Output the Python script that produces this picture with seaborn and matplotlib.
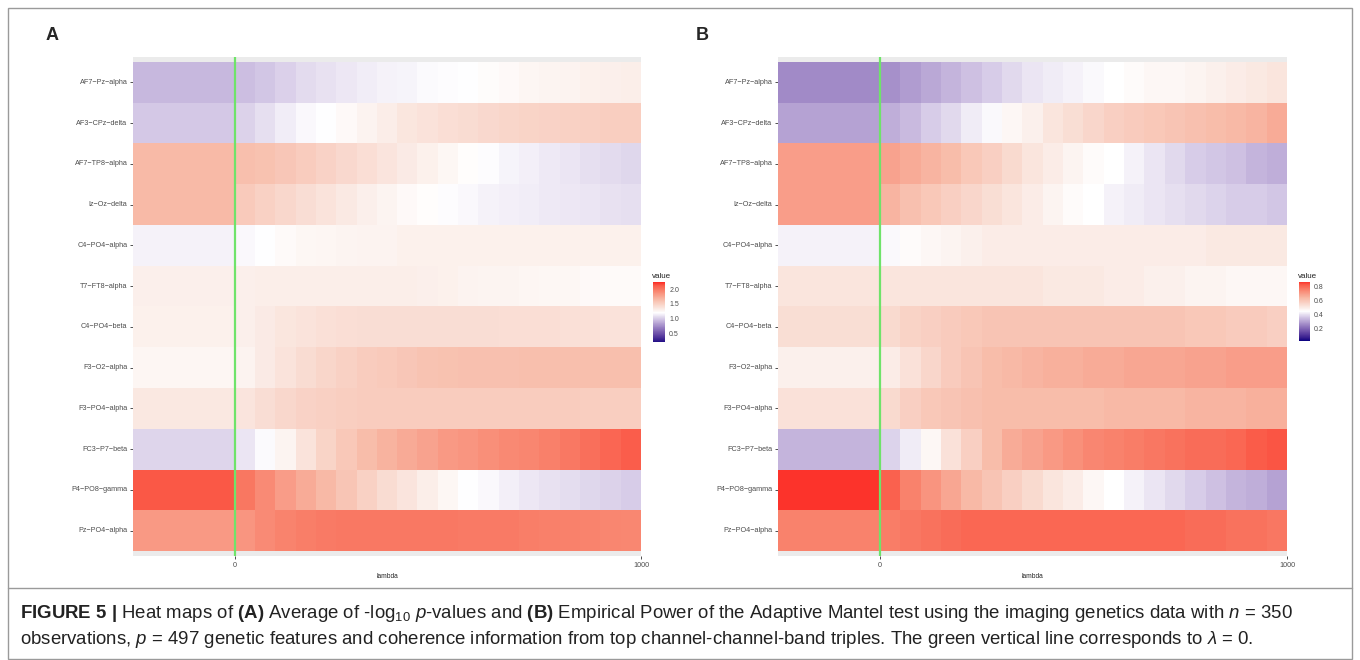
import numpy as np
import pandas as pd
import matplotlib
matplotlib.use("Agg")
import matplotlib.pyplot as plt
from matplotlib.colors import ListedColormap, to_rgb
from matplotlib.patches import Rectangle
from matplotlib.lines import Line2D
import seaborn as sns

# rows, top to bottom
pairs = ["AF7−Pz−alpha", "AF3−CPz−delta", "AF7−TP8−alpha", "Iz−Oz−delta", "C4−PO4−alpha",
         "T7−FT8−alpha", "C4−PO4−beta", "F3−O2−alpha", "F3−PO4−alpha", "FC3−P7−beta",
         "P4−PO8−gamma", "Pz−PO4−alpha"]

# lambda < 0 block (one value per row) and lambda = 0, 50, ..., 950
lambdas = list(range(0, 1000, 50))
neg_block = [-250, -200, -150, -100, -50]

# (A) average -log10 p-values
left_a = [0.93, 0.99, 1.65, 1.65, 1.15, 1.30, 1.29, 1.26, 1.35, 1.04, 2.13, 1.82]
vals_a = [
    [0.95, 0.98, 1.02, 1.06, 1.09, 1.11, 1.13, 1.15, 1.16, 1.18, 1.19, 1.20, 1.22, 1.24, 1.26, 1.27, 1.28, 1.29, 1.30, 1.31],
    [1.03, 1.08, 1.13, 1.17, 1.20, 1.24, 1.28, 1.32, 1.36, 1.39, 1.41, 1.43, 1.45, 1.47, 1.48, 1.49, 1.50, 1.51, 1.52, 1.52],
    [1.62, 1.60, 1.57, 1.53, 1.49, 1.45, 1.41, 1.37, 1.33, 1.29, 1.25, 1.21, 1.19, 1.16, 1.14, 1.12, 1.10, 1.08, 1.06, 1.05],
    [1.55, 1.50, 1.46, 1.42, 1.38, 1.34, 1.30, 1.27, 1.24, 1.21, 1.19, 1.17, 1.15, 1.14, 1.13, 1.12, 1.11, 1.10, 1.09, 1.08],
    [1.17, 1.20, 1.23, 1.25, 1.26, 1.27, 1.28, 1.28, 1.29, 1.29, 1.29, 1.29, 1.29, 1.29, 1.29, 1.29, 1.29, 1.29, 1.29, 1.29],
    [1.30, 1.31, 1.31, 1.31, 1.31, 1.31, 1.31, 1.31, 1.31, 1.30, 1.29, 1.28, 1.27, 1.27, 1.26, 1.25, 1.25, 1.24, 1.23, 1.23],
    [1.30, 1.33, 1.36, 1.38, 1.40, 1.41, 1.42, 1.42, 1.42, 1.42, 1.42, 1.42, 1.42, 1.41, 1.41, 1.41, 1.40, 1.40, 1.39, 1.39],
    [1.28, 1.33, 1.38, 1.43, 1.47, 1.50, 1.53, 1.55, 1.57, 1.59, 1.60, 1.61, 1.61, 1.61, 1.62, 1.62, 1.62, 1.62, 1.62, 1.62],
    [1.37, 1.42, 1.46, 1.49, 1.51, 1.52, 1.53, 1.53, 1.53, 1.53, 1.53, 1.53, 1.53, 1.53, 1.53, 1.53, 1.53, 1.52, 1.52, 1.52],
    [1.10, 1.18, 1.27, 1.38, 1.48, 1.56, 1.63, 1.69, 1.74, 1.78, 1.82, 1.85, 1.88, 1.91, 1.93, 1.96, 1.99, 2.03, 2.07, 2.11],
    [2.00, 1.90, 1.81, 1.73, 1.66, 1.58, 1.50, 1.43, 1.37, 1.31, 1.25, 1.20, 1.17, 1.14, 1.11, 1.09, 1.07, 1.05, 1.03, 1.01],
    [1.85, 1.90, 1.94, 1.97, 1.98, 1.99, 1.99, 1.99, 1.99, 1.99, 1.99, 1.98, 1.98, 1.98, 1.97, 1.96, 1.95, 1.94, 1.93, 1.92],
]

# (B) empirical power
left_b = [0.26, 0.30, 0.70, 0.70, 0.43, 0.52, 0.54, 0.49, 0.53, 0.33, 0.87, 0.76]
vals_b = [
    [0.27, 0.29, 0.31, 0.33, 0.35, 0.37, 0.39, 0.41, 0.42, 0.43, 0.44, 0.45, 0.46, 0.47, 0.47, 0.48, 0.49, 0.50, 0.51, 0.52],
    [0.32, 0.34, 0.37, 0.39, 0.42, 0.44, 0.47, 0.49, 0.52, 0.54, 0.56, 0.58, 0.59, 0.60, 0.61, 0.62, 0.63, 0.64, 0.65, 0.67],
    [0.69, 0.67, 0.65, 0.63, 0.60, 0.58, 0.55, 0.52, 0.50, 0.48, 0.46, 0.45, 0.43, 0.41, 0.39, 0.37, 0.36, 0.35, 0.33, 0.32],
    [0.65, 0.62, 0.60, 0.58, 0.56, 0.54, 0.52, 0.50, 0.48, 0.46, 0.45, 0.43, 0.42, 0.41, 0.40, 0.39, 0.38, 0.37, 0.37, 0.36],
    [0.44, 0.46, 0.47, 0.48, 0.49, 0.50, 0.50, 0.50, 0.50, 0.50, 0.50, 0.50, 0.50, 0.50, 0.50, 0.50, 0.51, 0.51, 0.51, 0.51],
    [0.52, 0.52, 0.52, 0.52, 0.52, 0.52, 0.52, 0.52, 0.51, 0.51, 0.51, 0.50, 0.50, 0.49, 0.49, 0.48, 0.48, 0.47, 0.47, 0.47],
    [0.55, 0.57, 0.58, 0.59, 0.60, 0.61, 0.61, 0.61, 0.61, 0.61, 0.61, 0.61, 0.61, 0.61, 0.61, 0.60, 0.60, 0.59, 0.59, 0.58],
    [0.50, 0.53, 0.56, 0.59, 0.61, 0.63, 0.64, 0.65, 0.66, 0.66, 0.67, 0.67, 0.68, 0.68, 0.68, 0.69, 0.69, 0.70, 0.70, 0.70],
    [0.55, 0.58, 0.60, 0.61, 0.62, 0.63, 0.63, 0.63, 0.63, 0.63, 0.63, 0.64, 0.64, 0.64, 0.64, 0.65, 0.65, 0.65, 0.66, 0.66],
    [0.38, 0.42, 0.47, 0.53, 0.58, 0.63, 0.67, 0.69, 0.71, 0.73, 0.75, 0.76, 0.77, 0.78, 0.79, 0.80, 0.80, 0.81, 0.83, 0.84],
    [0.82, 0.76, 0.72, 0.68, 0.64, 0.61, 0.58, 0.55, 0.52, 0.50, 0.47, 0.45, 0.43, 0.41, 0.39, 0.37, 0.35, 0.33, 0.32, 0.30],
    [0.77, 0.78, 0.79, 0.80, 0.81, 0.81, 0.81, 0.81, 0.81, 0.81, 0.81, 0.81, 0.81, 0.81, 0.81, 0.80, 0.80, 0.79, 0.79, 0.78],
]

# legend ranges and white midpoint (ggplot scale_fill_gradient2 style)
limits_a, mid_a, ticks_a = (0.21, 2.24), 1.2, [0.5, 1.0, 1.5, 2.0]
limits_b, mid_b, ticks_b = (0.02, 0.87), 0.45, [0.2, 0.4, 0.6, 0.8]

# red half of the scale, as it prints in the figure
red_stops = [0.0, 0.13, 0.43, 0.73, 0.90, 1.0]
red_cols = [(255, 255, 255), (250, 234, 228), (248, 187, 168), (249, 128, 106), (250, 88, 70), (252, 40, 35)]


def _to_lab(rgb):
    c = np.asarray(rgb, dtype=float)
    lin = np.where(c <= 0.04045, c / 12.92, ((c + 0.055) / 1.055) ** 2.4)
    m = np.array([[0.4124, 0.3576, 0.1805], [0.2126, 0.7152, 0.0722], [0.0193, 0.1192, 0.9505]])
    xyz = m @ lin / np.array([0.95047, 1.0, 1.08883])
    f = np.where(xyz > 0.008856, np.cbrt(xyz), 7.787 * xyz + 16 / 116)
    return np.array([116 * f[1] - 16, 500 * (f[0] - f[1]), 200 * (f[1] - f[2])])


def _from_lab(lab):
    L, a, b = lab
    fy = (L + 16) / 116
    f = np.array([fy + a / 500, fy, fy - b / 200])
    xyz = np.where(f ** 3 > 0.008856, f ** 3, (f - 16 / 116) / 7.787) * np.array([0.95047, 1.0, 1.08883])
    m = np.array([[3.2406, -1.5372, -0.4986], [-0.9689, 1.8758, 0.0415], [0.0557, -0.2040, 1.0570]])
    lin = np.clip(m @ xyz, 0, 1)
    return np.where(lin <= 0.0031308, 12.92 * lin, 1.055 * lin ** (1 / 2.4) - 0.055)


def gradient2_cmap(limits, mid, low="navy"):
    lo, hi = limits
    d = max(mid - lo, hi - mid)
    lab_low, lab_mid = _to_lab(to_rgb(low)), _to_lab((1, 1, 1))
    reds = np.array(red_cols) / 255
    cols = []
    for v in np.linspace(lo, hi, 256):
        r = np.clip((v - mid) / d / 2 + 0.5, 0, 1)
        if r < 0.5:
            cols.append(_from_lab(lab_low + (lab_mid - lab_low) * (r / 0.5)))
        else:
            f = (r - 0.5) / 0.5
            cols.append([np.interp(f, red_stops, reds[:, k]) for k in range(3)])
    return ListedColormap(cols)


def build_frame(left, vals):
    cols = neg_block + lambdas
    rows = [[l] * len(neg_block) + v for l, v in zip(left, vals)]
    return pd.DataFrame(rows, index=pairs, columns=cols)


sns.set_style("white")
plt.rcParams["font.family"] = ["Liberation Sans", "DejaVu Sans"]
plt.rcParams["mathtext.fontset"] = "custom"
plt.rcParams["mathtext.rm"] = "Liberation Sans"
plt.rcParams["mathtext.it"] = "Liberation Sans:italic"
plt.rcParams["mathtext.bf"] = "Liberation Sans:bold"

W, H = 1360, 660
fig = plt.figure(figsize=(W / 100, H / 100), dpi=100)


def px(x0, y0, x1, y1):
    return [x0 / W, 1 - y1 / H, (x1 - x0) / W, (y1 - y0) / H]


def draw_panel(ax_box, cax_box, left, vals, limits, mid, ticks, letter, letter_xy):
    ax = fig.add_axes(px(*ax_box))
    cax = fig.add_axes(px(*cax_box))
    df = build_frame(left, vals)
    sns.heatmap(df, ax=ax, cmap=gradient2_cmap(limits, mid), vmin=limits[0], vmax=limits[1],
                cbar_ax=cax, xticklabels=False, yticklabels=True, linewidths=0)
    ax.set_facecolor("#EBEBEB")
    ax.set_ylim(len(pairs) + 0.12, -0.12)
    cols = list(df.columns)
    zero_pos = cols.index(0)
    ax.axvline(zero_pos, color="#6FE36A", lw=1.6)
    ax.set_xticks([zero_pos, len(cols)])
    ax.set_xticklabels(["0", "1000"])
    ax.set_xlabel("lambda", fontsize=4.8, color="#222222", labelpad=3)
    ax.set_ylabel("")
    ax.tick_params(axis="both", labelsize=5.2, colors="#333333", labelcolor="#4D4D4D",
                   length=2.5, width=0.6, pad=1.5, left=True, bottom=True)
    for s in ax.spines.values():
        s.set_visible(False)
    cax.set_yticks(ticks)
    cax.tick_params(labelsize=5, length=2, width=0.5, colors="white", labelcolor="#4D4D4D",
                    direction="in", pad=3)
    for s in cax.spines.values():
        s.set_visible(False)
    cax.set_title("value", fontsize=5.8, loc="left", pad=3, x=-0.05, color="#222222")
    fig.text(letter_xy[0] / W, 1 - letter_xy[1] / H, letter, fontsize=13, fontweight="bold",
             ha="left", va="center")


draw_panel((133, 57, 641, 556), (653, 282, 665, 342), left_a, vals_a, limits_a, mid_a, ticks_a, "A", (46, 35))
draw_panel((778, 57, 1287, 556), (1299, 282, 1310, 341), left_b, vals_b, limits_b, mid_b, ticks_b, "B", (696, 35))

# frame around figure and caption
fig.add_artist(Rectangle((8 / W, 1 - 659 / H), 1344 / W, 651 / H, transform=fig.transFigure,
                         fill=False, ec="#9A9A9A", lw=1))
fig.add_artist(Line2D([8 / W, 1352 / W], [1 - 588 / H, 1 - 588 / H], transform=fig.transFigure,
                      color="#9A9A9A", lw=1))

line1 = (r"$\bf{FIGURE\ 5\ |}$ Heat maps of $\bf{(A)}$ Average of -log$_{10}$ $p$-values and "
         r"$\bf{(B)}$ Empirical Power of the Adaptive Mantel test using the imaging genetics data with $n$ = 350")
line2 = (r"observations, $p$ = 497 genetic features and coherence information from top "
         r"channel-channel-band triples. The green vertical line corresponds to $\lambda$ = 0.")
fig.text(20 / W, 1 - 613 / H, line1, fontsize=13.4, va="center", color="#222222")
fig.text(20 / W, 1 - 639 / H, line2, fontsize=13.4, va="center", color="#222222")

fig.savefig("out.png", dpi=100)
